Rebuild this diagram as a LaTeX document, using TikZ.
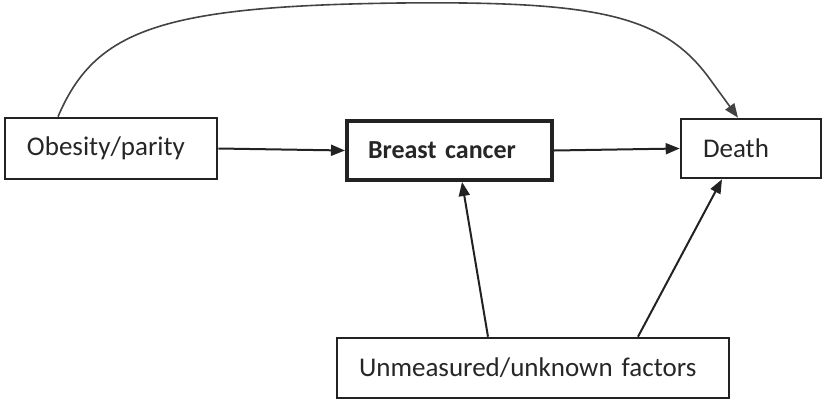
\documentclass[tikz,border=0pt]{standalone}
\usepackage{fontspec}
\setmainfont{Carlito}
\usetikzlibrary{arrows.meta,calc}
\definecolor{boxline}{HTML}{222222}
\definecolor{txt}{HTML}{262626}
\begin{document}
\begin{tikzpicture}[x=1pt,y=-1pt,
  box/.style={draw=boxline,line width=2.6pt,rectangle,align=left,inner ysep=0pt,
    font=\fontsize{27}{32}\selectfont,text=txt},
  arr/.style={draw=boxline,line width=2pt,-{Triangle[length=14pt,width=11pt]}}]
\useasboundingbox (0,0) rectangle (823,400);
\node[box,inner xsep=22pt,text width=168pt,minimum height=61pt] (ob) at (111,148.5) {Obesity/parity};
\node[box,line width=4pt,inner xsep=21pt,text width=163pt,minimum height=59pt,font=\fontsize{26}{31}\selectfont\bfseries] (bc) at (449.5,150.5) {Breast cancer};
\node[box,inner xsep=22pt,text width=96pt,minimum height=59pt] (de) at (751,148.5) {Death};
\node[box,inner xsep=22pt,text width=348pt,minimum height=60pt] (um) at (533,368) {Unmeasured/unknown factors};
\draw[arr] (ob.east) -- (bc.west);
\draw[arr] (bc.east) -- (de.west);
\draw[arr] ([xshift=-45pt]um.north) -- ([xshift=12.5pt]bc.south);
\draw[arr] ([xshift=105pt]um.north) -- ([xshift=-29pt]de.south);
\draw[draw=boxline!85,line width=1.6pt,-{Triangle[length=14pt,width=11pt]}]
  ([xshift=-53pt]ob.north) .. controls (95,30) and (160,6) .. (400,3)
  .. controls (600,1) and (665,15) .. (712,82) -- ([xshift=-13pt]de.north);
\end{tikzpicture}
\end{document}
